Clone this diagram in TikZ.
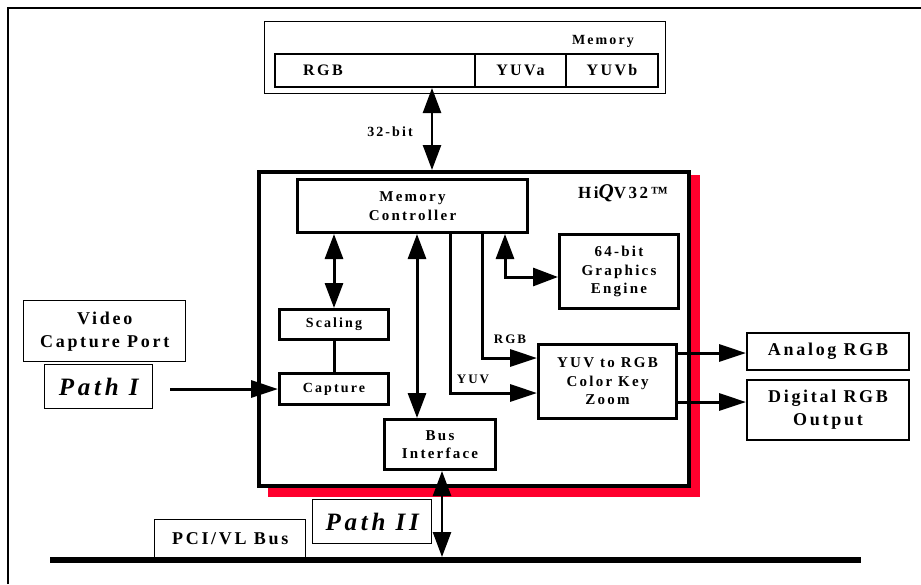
\documentclass[tikz,border=0pt]{standalone}
\usepackage{fontspec}
\setmainfont{Liberation Serif}[LetterSpace=15]
\usetikzlibrary{arrows.meta,calc}
\definecolor{shadowred}{RGB}{255,0,45}
\begin{document}
\begin{tikzpicture}[x=1pt,y=-1pt,
  box/.style={draw, line width=3pt, fill=white, inner sep=0pt, align=center, anchor=north west,
              font=\bfseries\fontsize{15}{18.5}\selectfont},
  thinbox/.style={box, line width=1.4pt},
  cell/.style={box, line width=2pt, font=\bfseries\fontsize{16}{18}\selectfont},
  outbox/.style={box, line width=2pt, font=\bfseries\fontsize{18}{23}\selectfont},
  pathbox/.style={thinbox, font=\bfseries\itshape\fontsize{25}{28}\selectfont},
  arr/.style={line width=3pt, -{Triangle[length=27pt,width=17pt]}},
  darr/.style={line width=3pt, {Triangle[length=25pt,width=18pt]}-{Triangle[length=25pt,width=18pt]}},
  thinarr/.style={line width=2.5pt, {Triangle[length=25pt,width=18pt]}-{Triangle[length=25pt,width=18pt]}},
  lbl/.style={inner sep=0pt, font=\bfseries\fontsize{13}{15}\selectfont},
  plain/.style={line width=3pt}
]
\useasboundingbox (0,0) rectangle (921,584);

% outer frame
\draw[line width=2pt] (8,584) -- (8,8) -- (921,8);

% memory
\node[thinbox, minimum width=401pt, minimum height=72pt] (mem) at (264,21) {};
\node[cell, minimum width=200pt, minimum height=33pt] (rgbc) at (274,53) {};
\node[cell, minimum width=91pt, minimum height=33pt] (yuva) at (474,53) {YUVa};
\node[cell, minimum width=92pt, minimum height=33pt] (yuvb) at (565,53) {YUVb};
\node[inner sep=0pt, anchor=west, font=\bfseries\fontsize{16}{18}\selectfont] (rgbt) at ($(rgbc.west)+(29,0)$) {RGB};
\node[lbl, font=\bfseries\fontsize{14}{16}\selectfont] (memt) at (603,41) {Memory};

% chip with red shadow
\fill[shadowred] (268,175) rectangle (700,497);
\node[box, line width=3.5pt, minimum width=430pt, minimum height=314pt] (hiqv) at (257,170) {};
\node[inner sep=0pt, font=\bfseries\fontsize{17}{20}\selectfont] (hiqvt) at (623,193)
  {Hi{\itshape\fontsize{21}{21}\selectfont Q}V32™};

\node[box, minimum width=230pt, minimum height=53pt] (mc) at (296,178) {Memory\\Controller};
\node[box, minimum width=119pt, minimum height=74pt] (ge) at (558,233) {64-bit\\Graphics\\Engine};
\node[box, font=\bfseries\fontsize{14}{17}\selectfont, minimum width=109pt, minimum height=30pt] (sc) at (278,308) {Scaling};
\node[box, font=\bfseries\fontsize{14}{17}\selectfont, minimum width=109pt, minimum height=31pt] (cap) at (278,372) {Capture};
\node[box, minimum width=111pt, minimum height=50pt] (bi) at (383,418) {Bus\\Interface};
\node[box, minimum width=138pt, minimum height=74pt] (yr) at (537,343) {YUV to RGB\\Color Key\\Zoom};

% outputs
\node[outbox, minimum width=162pt, minimum height=37pt] (an) at (746,332) {Analog RGB};
\node[outbox, minimum width=162pt, minimum height=60pt] (dg) at (746,379) {Digital RGB\\Output};

% video capture port
\node[thinbox, font=\bfseries\fontsize{18}{23}\selectfont, minimum width=162pt, minimum height=61pt] (vcp) at (23,300) {Video\\Capture Port};
\node[pathbox, minimum width=108pt, minimum height=44pt] (p1) at (44,364) {Path I};

% bus
\node[thinbox, font=\bfseries\fontsize{18}{20}\selectfont, minimum width=151pt, minimum height=38pt] (pci) at (154,519) {PCI/VL Bus};
\node[pathbox, minimum width=119pt, minimum height=44pt] (p2) at (312,499) {Path II};
\coordinate (busl) at (50,560);
\coordinate (busr) at (861,560);
\draw[line width=6pt] (busl) -- (busr);

% helper coordinates
\coordinate (x32) at (432,0);
\coordinate (xbi) at (417,0);
\coordinate (xyuv) at (450,393);
\coordinate (xrgb) at (482,358);
\coordinate (xge) at (505,277);
\coordinate (bustop) at (442,557);
\coordinate (p1s) at (170,0);
\coordinate (ya) at (0,353);
\coordinate (yd) at (0,402);

% connectors
\draw[thinarr] (rgbc.south -| x32) -- (hiqv.north -| x32);
\node[lbl, font=\bfseries\fontsize{14}{16}\selectfont] (b32) at (390,132) {32-bit};

\draw[darr] (mc.south -| sc.north) -- (sc.north);
\draw[plain] (sc.south) -- (cap.north);
\draw[darr] (mc.south -| xbi) -- (bi.north -| xbi);
\draw[arr] (mc.south -| xyuv) |- (yr.west |- xyuv);
\draw[arr] (mc.south -| xrgb) |- (yr.west |- xrgb);
\draw[darr] (mc.south -| xge) |- (ge.west |- xge);
\node[lbl, anchor=south] (rgbl) at (510,344) {RGB};
\node[lbl, anchor=south] (yuvl) at (473,384) {YUV};

\draw[arr] (cap.west -| p1s) -- (cap.west);
\draw[arr] (yr.east |- ya) -- (an.west |- ya);
\draw[arr] (yr.east |- yd) -- (dg.west |- yd);
\draw[thinarr] (bi.south -| bustop) -- (bustop);
\end{tikzpicture}
\end{document}
